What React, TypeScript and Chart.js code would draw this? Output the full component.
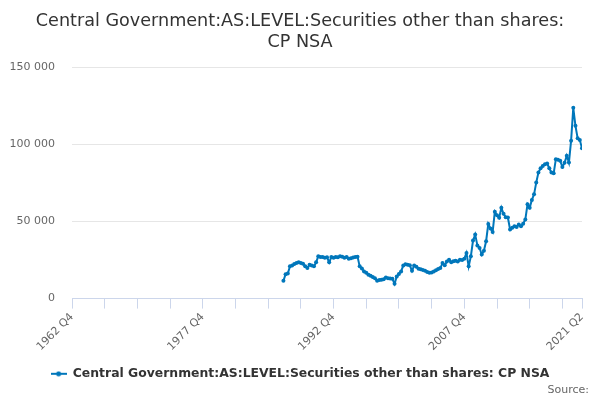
import { useEffect, useRef } from "react"
import { Chart, registerables } from "chart.js"

Chart.register(...registerables)

// quarter index 0 = 1962 Q4, last = 2021 Q2
const firstQuarter = { year: 1962, q: 4 }
const axisMax = 234
const seriesStart = 97 // 1987 Q1

const seriesLabel = "Central Government:AS:LEVEL:Securities other than shares: CP NSA"

// quarterly values from 1987 Q1 to 2021 Q2
const values = [
  11500, 15800, 16200, 20900, 21500, 22400, 23000, 23500, 23000, 22600,
  21000, 19800, 22000, 21500, 20900, 23500, 27400, 27000, 26900, 26500,
  26800, 23500, 26900, 26500, 27000, 26800, 27400, 27200, 26500, 27000,
  25900, 26200, 26600, 27000, 27200, 20900, 19500, 17600, 16800, 15400,
  14800, 14000, 13200, 11500, 12000, 12300, 12600, 13700, 13200, 13000,
  12800, 9600, 14300, 16000, 17600, 21500, 22200, 22000, 21600, 18000,
  21500, 20600, 19400, 19000, 18600, 18000, 17200, 16700, 17000, 17600,
  18400, 19200, 19800, 23000, 21600, 24000, 25200, 23600, 24200, 24600,
  24000, 25200, 25000, 25900, 29500, 20900, 27400, 37600, 41500, 34500,
  32800, 28600, 31100, 37200, 48400, 45500, 43200, 56300, 54000, 52400,
  58900, 55000, 52800, 52500, 44800, 46000, 46900, 46500, 48000, 46900,
  48500, 51300, 61100, 58900, 64000, 67600, 75200, 81700, 84500, 86000,
  87100, 87600, 84500, 81700, 81200, 90400, 90000, 89300, 85400, 88000,
  92600, 88200, 102400, 123700, 112000, 104000, 102800, 97400,
]

const xTickIndices = [0, 15, 30, 45, 60, 75, 90, 105, 120, 135, 150, 165, 180, 195, 210, 225, 234]
const xLabelIndices = [0, 60, 120, 180, 234]
const yTicks = [0, 50000, 100000, 150000]

const lineColor = "#0077bb"

function quarterLabel(i: number) {
  const n = firstQuarter.q - 1 + i
  const year = firstQuarter.year + Math.floor(n / 4)
  return year + " Q" + ((n % 4) + 1)
}

function formatThousands(v: number) {
  return String(v).replace(/\B(?=(\d{3})+(?!\d))/g, " ")
}

function legendSymbol() {
  const c = document.createElement("canvas")
  c.width = 16
  c.height = 6
  const g = c.getContext("2d")
  if (g) {
    g.strokeStyle = lineColor
    g.lineWidth = 2
    g.beginPath()
    g.moveTo(0, 3)
    g.lineTo(16, 3)
    g.stroke()
    g.fillStyle = lineColor
    g.beginPath()
    g.arc(8, 3, 2.5, 0, Math.PI * 2)
    g.fill()
  }
  return c
}

const sourcePlugin = {
  id: "sourceText",
  afterDraw(chart: Chart) {
    const ctx = chart.ctx
    ctx.save()
    ctx.font = "11px 'DejaVu Sans'"
    ctx.fillStyle = "#666666"
    ctx.textAlign = "right"
    ctx.textBaseline = "middle"
    ctx.fillText("Source:", 589, 390)
    ctx.restore()
  },
}

export default function App() {
  const chartRef = useRef<HTMLCanvasElement>(null)
  const chartInstance = useRef<Chart | null>(null)

  useEffect(() => {
    const canvas = chartRef.current
    if (!canvas) return
    const ctx = canvas.getContext("2d")
    if (!ctx) return

    if (chartInstance.current) {
      chartInstance.current.destroy()
    }

    const symbol = legendSymbol()
    const points = values.map((v, k) => ({ x: seriesStart + k, y: v }))

    chartInstance.current = new Chart(ctx, {
      type: "line",
      data: {
        datasets: [
          {
            label: seriesLabel,
            data: points,
            borderColor: lineColor,
            backgroundColor: lineColor,
            borderWidth: 2,
            pointRadius: 2,
            pointHoverRadius: 3,
            pointBorderWidth: 0,
            tension: 0,
          },
        ],
      },
      options: {
        responsive: true,
        maintainAspectRatio: false,
        animation: false,
        layout: { padding: { left: 0, right: 0, bottom: 10, top: 0 } },
        plugins: {
          title: {
            display: true,
            text: ["Central Government:AS:LEVEL:Securities other than shares:", "CP NSA"],
            color: "#333333",
            font: { family: "'DejaVu Sans'", size: 17.6, weight: "normal", lineHeight: 1.2 },
            padding: { top: 11, bottom: 14 },
          },
          legend: {
            position: "bottom",
            labels: {
              color: "#333333",
              font: { family: "'DejaVu Sans'", size: 12.4, weight: "bold" },
              usePointStyle: true,
              pointStyleWidth: 16,
              padding: 8,
              generateLabels: (chart: Chart) =>
                Chart.defaults.plugins.legend.labels.generateLabels(chart).map((l: any) => ({
                  ...l,
                  pointStyle: symbol,
                })),
            },
          },
          tooltip: { enabled: false },
        },
        scales: {
          x: {
            type: "linear",
            min: 0,
            max: axisMax,
            afterBuildTicks: (axis: any) => {
              axis.ticks = xTickIndices.map((v) => ({ value: v }))
            },
            afterFit: (axis: any) => {
              axis.height = 61
            },
            grid: {
              drawOnChartArea: false,
              drawTicks: true,
              tickLength: 10,
              color: "#ccd6eb",
            },
            border: { display: true, color: "#ccd6eb" },
            ticks: {
              autoSkip: false,
              maxRotation: 45,
              minRotation: 45,
              padding: 2,
              color: "#666666",
              font: { family: "'DejaVu Sans'", size: 11 },
              callback: (v: any) => (xLabelIndices.includes(Number(v)) ? quarterLabel(Number(v)) : ""),
            },
          },
          y: {
            min: 0,
            max: 150000,
            afterBuildTicks: (axis: any) => {
              axis.ticks = yTicks.map((v) => ({ value: v }))
            },
            afterFit: (axis: any) => {
              axis.width = 72
            },
            grid: { color: "#e6e6e6", drawTicks: false },
            border: { display: false },
            ticks: {
              padding: 17,
              color: "#666666",
              font: { family: "'DejaVu Sans'", size: 11 },
              callback: (v: any) => formatThousands(Number(v)),
            },
          },
          // empty right-hand box that keeps the plot clear of the right edge
          spacer: {
            type: "linear",
            position: "right",
            display: true,
            afterFit: (axis: any) => {
              axis.width = 18
            },
            grid: { drawOnChartArea: false, drawTicks: false },
            border: { display: false },
            ticks: { display: false },
          },
        },
      },
      plugins: [sourcePlugin],
    })

    return () => {
      if (chartInstance.current) {
        chartInstance.current.destroy()
        chartInstance.current = null
      }
    }
  }, [])

  return (
    <div style={{ position: "absolute", left: 0, top: 0, width: 600, height: 400, background: "#fff" }}>
      <canvas ref={chartRef}></canvas>
    </div>
  )
}
